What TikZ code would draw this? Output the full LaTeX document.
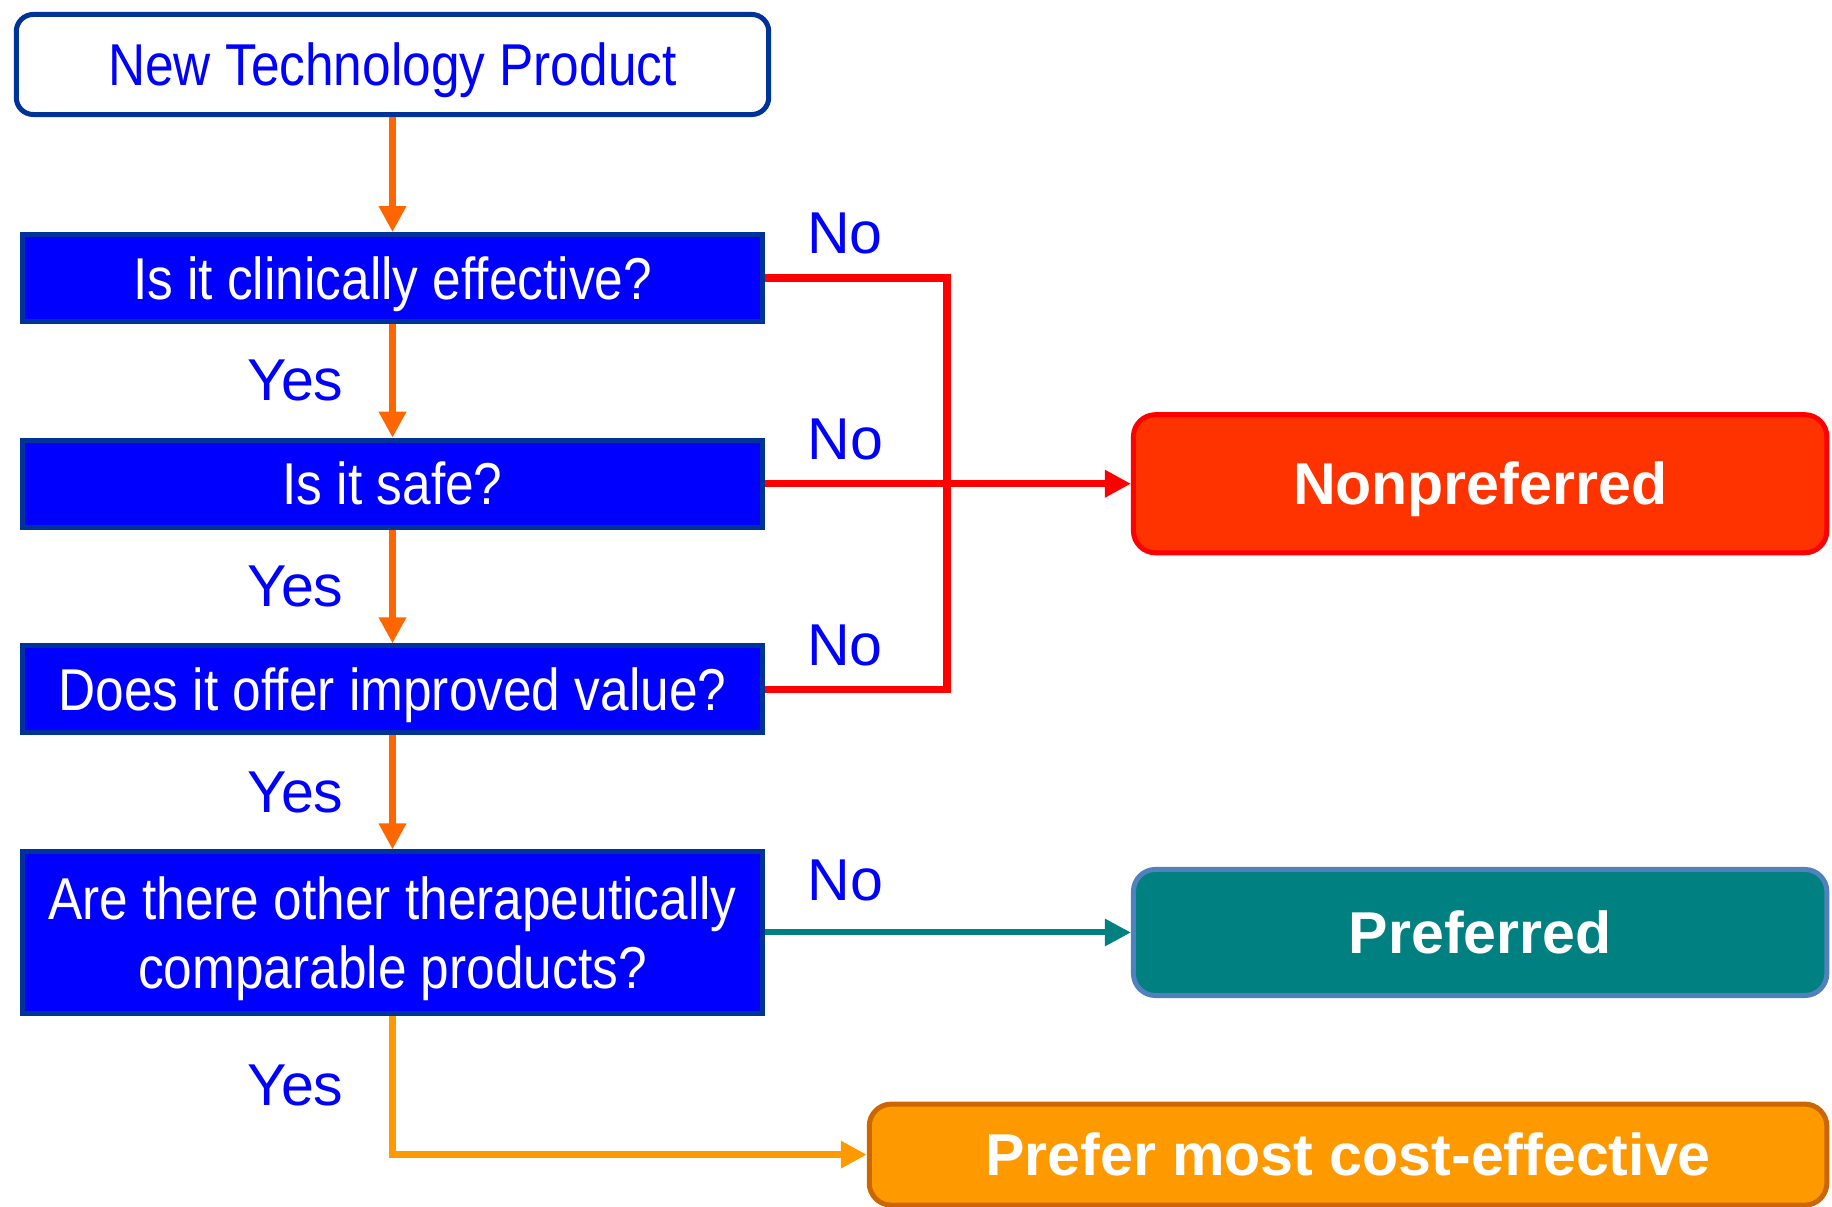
\documentclass[tikz,border=0pt]{standalone}
\usepackage{fontspec}
\setmainfont{Liberation Sans}
\newfontfamily\narrowsans{Liberation Sans}[FakeStretch=0.87]
\usetikzlibrary{positioning, arrows.meta}

\definecolor{frameblue}{HTML}{003399}
\definecolor{boxblue}{HTML}{0000FF}
\definecolor{flowor}{HTML}{FF6600}
\definecolor{noway}{HTML}{FF0000}
\definecolor{nonprefill}{HTML}{FF3300}
\definecolor{prefteal}{HTML}{008080}
\definecolor{preframe}{HTML}{4F81BD}
\definecolor{costor}{HTML}{FF9900}
\definecolor{costframe}{HTML}{CC6600}

\tikzset{
  question/.style={draw=frameblue, fill=boxblue, text=white, line width=0.05cm,
    minimum width=7.39cm, minimum height=0.87cm, inner sep=0pt, align=center,
    text height=12pt, text depth=0pt,
    font=\narrowsans\fontsize{16.8}{19.8}\selectfont},
  startbox/.style={question, fill=white, text=boxblue, rounded corners=0.17cm,
    minimum width=7.52cm, minimum height=1cm},
  outcome/.style={line width=0.05cm, rounded corners=0.22cm, text=white,
    minimum width=6.93cm, text height=12pt, text depth=0pt,
    font=\bfseries\fontsize{16.8}{19.3}\selectfont},
  answer/.style={text=boxblue, inner sep=0pt, font=\fontsize{16.8}{19.3}\selectfont},
}

\begin{document}
\begin{tikzpicture}[x=0.01cm, y=-0.01cm, on grid, >={Triangle[length=0.26cm, width=0.26cm]}]
  \useasboundingbox (0,0) rectangle (1832,1207);

  \node[startbox] (newprod) at (392.5,64.5) {New Technology Product};
  \node[question] (effective) [below=2.135cm of newprod] {Is it clinically effective?};
  \node[question] (safe)      [below=2.055cm of effective] {Is it safe?};
  \node[question] (value)     [below=2.055cm of safe] {Does it offer improved value?};
  \node[question, minimum height=1.61cm, text height=] (comparable) [below=2.43cm of value]
    {Are there other therapeutically\\comparable products?};

  \node[outcome, draw=noway, fill=nonprefill, minimum height=1.38cm] (nonpref)
    [right=10.87cm of safe] {Nonpreferred};
  \node[outcome, draw=preframe, fill=prefteal, minimum height=1.26cm] (pref)
    [right=10.87cm of comparable] {Preferred};
  \node[outcome, draw=costframe, fill=costor, minimum width=9.57cm, minimum height=1.01cm] (costeff)
    [below right=2.22cm and 9.55cm of comparable] {Prefer most cost-effective};

  \coordinate[right=5.54cm of safe] (merge);

  \path[->, line width=0.07cm, flowor]
    (newprod)   edge (effective)
    (effective) edge node[answer, left=0.455cm] {Yes} (safe)
    (safe)      edge node[answer, left=0.455cm] {Yes} (value)
    (value)     edge node[answer, left=0.455cm] {Yes} (comparable);

  % no branches
  \draw[noway, line width=0.075cm] (effective) -| node[answer, above=0.2cm, pos=0.22] {No} (merge);
  \draw[noway, line width=0.075cm] (value) -| node[answer, above=0.2cm, pos=0.22] {No} (merge);
  \draw[->, noway, line width=0.075cm] (safe) -- node[answer, above=0.2cm, pos=0.22] {No} (nonpref);
  \draw[->, prefteal, line width=0.06cm] (comparable) -- node[answer, above=0.28cm, pos=0.22] {No} (pref);

  \draw[->, costor, line width=0.07cm] (comparable) |- node[answer, left=0.455cm, pos=0.25] {Yes} (costeff);
\end{tikzpicture}
\end{document}
